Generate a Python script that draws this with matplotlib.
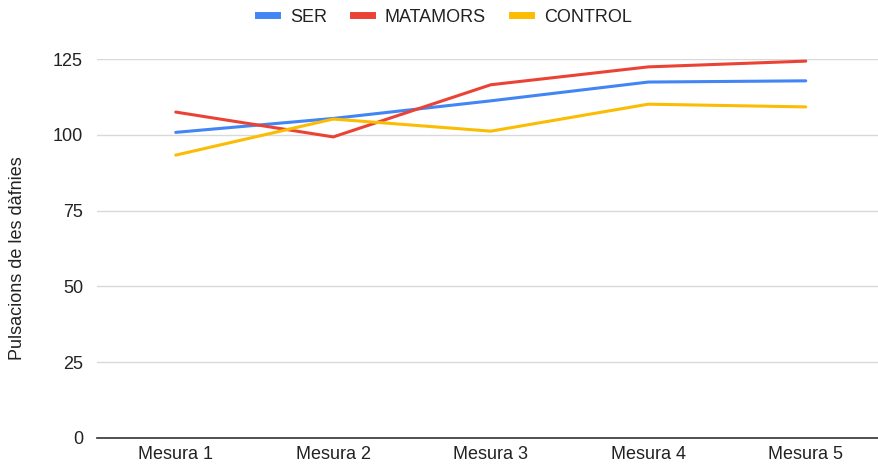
import matplotlib.pyplot as plt
from matplotlib.lines import Line2D

plt.rcParams['font.family'] = ['Liberation Sans', 'DejaVu Sans']

categories = ['Mesura 1', 'Mesura 2', 'Mesura 3', 'Mesura 4', 'Mesura 5']
ser = [100.8, 105.4, 111.2, 117.4, 117.8]
matamors = [107.5, 99.3, 116.5, 122.4, 124.3]
control = [93.3, 105.2, 101.2, 110.1, 109.2]
yticks = [0, 25, 50, 75, 100, 125]

colors = {'SER': '#4285F4', 'MATAMORS': '#EA4335', 'CONTROL': '#FBBC04'}

W, H = 879, 471
fig = plt.figure(figsize=(W / 100, H / 100), dpi=100)
# plot area: 5 bands of ~157.5 px starting at x=97, y from 59 (125) to 438 (0)
ax = fig.add_axes([97 / W, 1 - 438 / H, 787.5 / W, (438 - 59) / H])

x = list(range(len(categories)))
for name, vals in [('SER', ser), ('MATAMORS', matamors), ('CONTROL', control)]:
    ax.plot(x, vals, color=colors[name], lw=2.2, solid_capstyle='round',
            solid_joinstyle='round', clip_on=False, zorder=3)

ax.set_ylim(0, 125)
ax.set_xlim(-0.5, 4.5)
ax.set_yticks(yticks)
ax.set_xticks(x)
ax.set_xticklabels(categories)
ax.tick_params(length=0, labelsize=13, colors='#222222', pad=6)
ax.tick_params(axis='y', pad=10)
ax.grid(axis='y', color='#d9d9d9', lw=1)
ax.set_axisbelow(True)
for s in ['top', 'right', 'left']:
    ax.spines[s].set_visible(False)
ax.spines['bottom'].set_color('#333333')
ax.spines['bottom'].set_linewidth(1.2)
ax.spines['bottom'].set_zorder(2)

fig.text(18 / W, 1 - 258 / H, 'Pulsacions de les dàfnies', rotation=90,
         ha='center', va='center', fontsize=13, color='#222222')

handles = [Line2D([], [], color=c, lw=5) for c in colors.values()]
fig.legend(handles, list(colors.keys()), loc='center', bbox_to_anchor=(445 / W, 1 - 17 / H),
           ncol=3, frameon=False, fontsize=13, handlelength=1.05, handletextpad=0.7,
           columnspacing=1.45, labelcolor='#222222')

fig.savefig('out.png', dpi=100)
